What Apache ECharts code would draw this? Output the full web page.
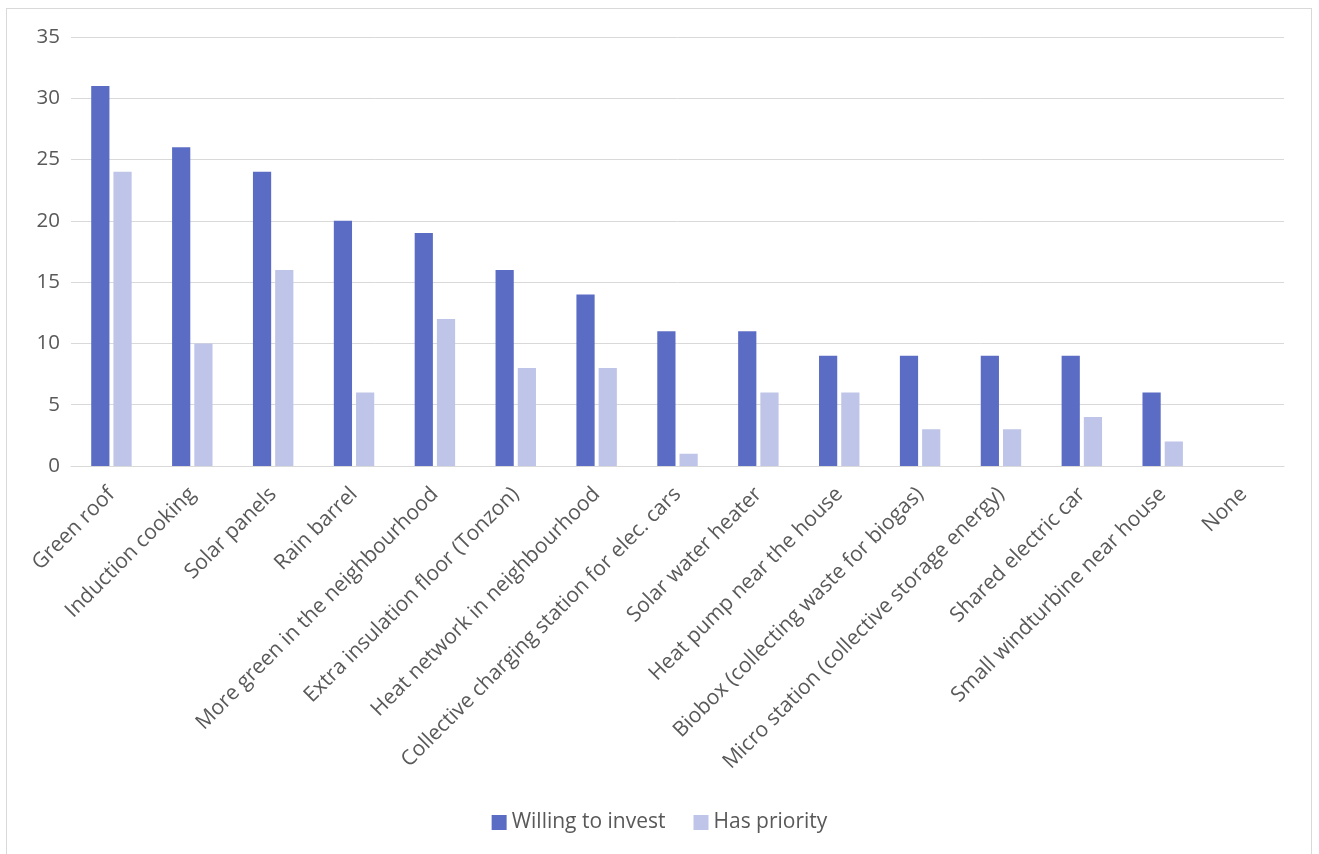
<!DOCTYPE html>
<html><head><meta charset="utf-8">
<script src="https://cdn.jsdelivr.net/npm/echarts@6/dist/echarts.min.js"></script>
<style>
html,body{margin:0;padding:0;background:#fff;}
#frame{position:absolute;left:6px;top:8px;width:1306px;height:860px;border:1px solid #d9d9d9;box-sizing:border-box;}
#chart{position:absolute;left:0;top:0;width:1319px;height:854px;}
</style></head>
<body>
<div id="frame"></div>
<div id="chart"></div>
<script>
const categories = ["Green roof","Induction cooking","Solar panels","Rain barrel","More green in the neighbourhood","Extra insulation floor (Tonzon)","Heat network in neighbourhood","Collective charging station for elec. cars","Solar water heater","Heat pump near the house","Biobox (collecting waste for biogas)","Micro station (collective storage energy)","Shared electric car","Small windturbine near house","None"];
const willingToInvest = [31,26,24,20,19,16,14,11,11,9,9,9,9,6,0];
const hasPriority = [24,10,16,6,12,8,8,1,6,6,3,3,4,2,0];
const seriesNames = ["Willing to invest","Has priority"];

const chart = echarts.init(document.getElementById('chart'));
const font = "'Open Sans', 'Noto Sans', sans-serif";
chart.setOption({
  animation:false,
  textStyle:{fontFamily:font},
  grid:{left:71,right:35,top:37,bottom:388,containLabel:false},
  legend:{bottom:16,left:'center',itemWidth:15,itemHeight:15,itemGap:28,icon:'rect',
    textStyle:{fontSize:21,color:'#595959',fontFamily:font},data:seriesNames},
  xAxis:{type:'category',data:categories,
    axisLine:{lineStyle:{color:'#d9d9d9',width:1}},axisTick:{show:false},
    axisLabel:{rotate:45,interval:0,fontSize:21,color:'#595959',margin:25,fontFamily:font}},
  yAxis:{type:'value',min:0,max:35,interval:5,
    axisLine:{show:false},axisTick:{show:false},
    splitLine:{lineStyle:{color:'#d9d9d9',width:1}},
    axisLabel:{fontSize:20.5,color:'#595959',margin:11,fontFamily:font}},
  series:[
    {name:seriesNames[0],type:'bar',data:willingToInvest,itemStyle:{color:'#5B6CC4'},barGap:'22%',barCategoryGap:'50%'},
    {name:seriesNames[1],type:'bar',data:hasPriority,itemStyle:{color:'#BFC5E8'}}
  ]
});
</script>
</body></html>
